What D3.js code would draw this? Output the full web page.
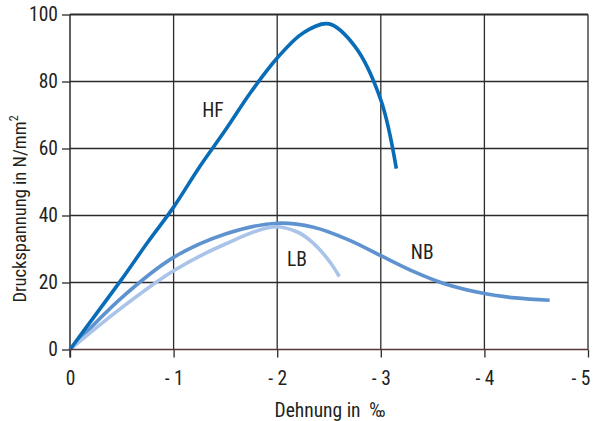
<!DOCTYPE html>
<html lang="de">
<head>
<meta charset="UTF-8">
<title>Druckspannung - Dehnung</title>
<script src="https://d3js.org/d3.v7.min.js"></script>
<style>
  body { margin: 0; background: #fff; }
  text { font-family: "Liberation Sans Narrow", "Roboto Condensed", "Arial Narrow", sans-serif; fill: #231f20; }
</style>
</head>
<body>
<script>
    // strain (per mille, negative) and stress (N/mm2)
    const hfStrain = [0, -0.25, -0.5, -0.75, -1, -1.25, -1.5, -1.75, -2, -2.25, -2.5, -2.75, -3.0, -3.15]
    const hfStress = [0, 10.5, 21, 32, 42.5, 54.5, 65.5, 77, 87, 94.5, 97.2, 90.5, 74.5, 54]

    const nbStrain = [0, -0.5, -1, -1.5, -2, -2.35, -2.7, -3, -3.3, -3.6, -4, -4.3, -4.63]
    const nbStress = [0, 15.5, 27.5, 34.5, 37.7, 36.5, 32.6, 28, 23.5, 19.8, 16.7, 15.4, 14.7]

    const lbStrain = [0, -0.5, -1, -1.5, -1.96, -2.2, -2.35, -2.5, -2.6]
    const lbStress = [0, 12.5, 23.5, 31.5, 36.6, 35, 31.7, 26.5, 21.8]

    const series = [
        { name: "NB", x: nbStrain, y: nbStress, color: "#5f93d0", label: [-3.4, 27] },
        { name: "LB", x: lbStrain, y: lbStress, color: "#a9c4e8", label: [-2.19, 25] },
        { name: "HF", x: hfStrain, y: hfStress, color: "#086cb6", label: [-1.38, 69.5] }
    ]

    const xTicks = [0, -1, -2, -3, -4, -5]
    const yTicks = [0, 20, 40, 60, 80, 100]

    const width = 594
    const height = 421

    const svg = d3.select("body")
        .append("svg")
        .attr("width", width)
        .attr("height", height)

    const xScale = d3.scaleLinear()
        .domain([0, -5])
        .range([70, 588])

    const yScale = d3.scaleLinear()
        .domain([0, 100])
        .range([349.5, 14.5])

    // grid
    svg.append("g")
        .selectAll("line")
        .data(xTicks.slice(1))
        .join("line")
        .attr("x1", d => xScale(d))
        .attr("x2", d => xScale(d))
        .attr("y1", yScale(100))
        .attr("y2", yScale(0))
        .attr("stroke", "#2b2b2b")
        .attr("stroke-width", 1.3)

    svg.append("g")
        .selectAll("line")
        .data(yTicks.slice(1))
        .join("line")
        .attr("x1", xScale(0))
        .attr("x2", xScale(-5))
        .attr("y1", d => yScale(d))
        .attr("y2", d => yScale(d))
        .attr("stroke", "#2b2b2b")
        .attr("stroke-width", d => d === 100 ? 2.2 : 1.3)

    // axes
    const xAxis = svg.append("g")
        .attr("transform", `translate(0, ${yScale(0)})`)
        .call(d3.axisBottom(xScale)
            .tickValues(xTicks)
            .tickSize(8)
            .tickPadding(14)
            .tickFormat(d => d === 0 ? "0" : "- " + Math.abs(d)))

    const yAxis = svg.append("g")
        .attr("transform", `translate(${xScale(0)}, 0)`)
        .call(d3.axisLeft(yScale)
            .tickValues(yTicks)
            .tickSize(8)
            .tickPadding(4))

    for (const ax of [xAxis, yAxis]) {
        ax.select(".domain").remove()
        ax.selectAll(".tick line").attr("stroke", "#2b2b2b").attr("stroke-width", 1.3)
        ax.selectAll(".tick text").style("font-size", "19.5px").attr("fill", "#231f20")
    }
    // last x label sits against the right edge
    xAxis.selectAll(".tick text").filter(d => d === -5).attr("text-anchor", "end").attr("dx", 2)

    svg.append("line")
        .attr("x1", xScale(0))
        .attr("x2", xScale(0))
        .attr("y1", yScale(100))
        .attr("y2", yScale(0) + 8)
        .attr("stroke", "#2b2b2b")
        .attr("stroke-width", 1.5)

    // curves
    const line = d3.line()
        .x(d => xScale(d[0]))
        .y(d => yScale(d[1]))
        .curve(d3.curveCatmullRom.alpha(0.5))

    svg.append("g")
        .selectAll("path")
        .data(series)
        .join("path")
        .attr("d", s => line(s.x.map((v, i) => [v, s.y[i]])))
        .attr("fill", "none")
        .attr("stroke", s => s.color)
        .attr("stroke-width", 3.6)

    // zero line drawn on top
    svg.append("line")
        .attr("x1", xScale(0))
        .attr("x2", xScale(-5))
        .attr("y1", yScale(0))
        .attr("y2", yScale(0))
        .attr("stroke", "#5c3535")
        .attr("stroke-width", 1.6)

    svg.append("g")
        .selectAll("text")
        .data(series)
        .join("text")
        .attr("x", s => xScale(s.label[0]))
        .attr("y", s => yScale(s.label[1]))
        .attr("text-anchor", "middle")
        .style("font-size", "19.5px")
        .text(s => s.name)

    svg.append("text")
        .attr("x", 330)
        .attr("y", 417)
        .attr("text-anchor", "middle")
        .style("font-size", "19.5px")
        .text("Dehnung in \u00a0\u2030")

    const yTitle = svg.append("text")
        .attr("transform", "translate(26, 209) rotate(-90)")
        .attr("text-anchor", "middle")
        .style("font-size", "18.5px")
    yTitle.append("tspan").text("Druckspannung in N/mm")
    yTitle.append("tspan").attr("dy", -8).style("font-size", "12px").text("2")
</script>
</body>
</html>
